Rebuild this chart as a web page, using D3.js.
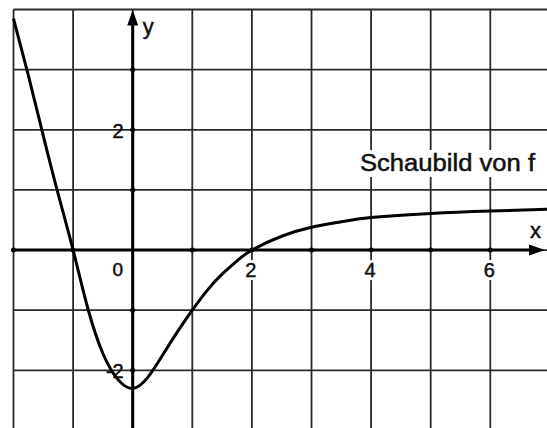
<!DOCTYPE html>
<html>
<head>
<meta charset="utf-8">
<script src="https://cdn.jsdelivr.net/npm/d3@7"></script>
<style>
  html, body { margin: 0; padding: 0; background: #fff; }
  svg { display: block; }
  text { font-family: "Liberation Sans", Arial, sans-serif; fill: #111; stroke: #111; stroke-width: 0.5px; }
</style>
</head>
<body>
<svg id="chart"></svg>
<script>
const W = 547, H = 428;

// curve
const curveX = [-2, -1.75, -1.5, -1.25, -1, -0.75, -0.5, -0.25, 0, 0.25, 0.5, 0.75, 1, 1.25, 1.5, 1.75, 2, 2.5, 3, 3.5, 4, 5, 6, 7];
const curveY = [3.85, 2.9, 1.9, 0.93, 0, -0.98, -1.72, -2.15, -2.3, -2.12, -1.75, -1.36, -1, -0.67, -0.4, -0.18, 0, 0.23, 0.38, 0.47, 0.54, 0.61, 0.65, 0.68];

const gridX = [-2, -1, 0, 1, 2, 3, 4, 5, 6];
const gridY = [-2, -1, 0, 1, 2, 3, 4];
const xTickLabels = [2, 4, 6];
const yTickLabels = [2, -2];

const svg = d3.select("#chart").attr("width", W).attr("height", H);

const x = d3.scaleLinear().domain([-2, 7]).range([13.5, 13.5 + 9 * 59.6]);
const y = d3.scaleLinear().domain([-3, 4]).range([430.5, 9.5]);

// grid
svg.append("g")
  .selectAll("line")
  .data(gridX)
  .join("line")
  .attr("x1", (d) => x(d))
  .attr("x2", (d) => x(d))
  .attr("y1", y(4))
  .attr("y2", H)
  .attr("stroke", "#2a2a2a")
  .attr("stroke-width", 1.8);

svg.append("g")
  .selectAll("line")
  .data(gridY)
  .join("line")
  .attr("x1", x(-2))
  .attr("x2", W)
  .attr("y1", (d) => y(d))
  .attr("y2", (d) => y(d))
  .attr("stroke", "#2a2a2a")
  .attr("stroke-width", 1.8);

// white patches behind labels (grid is broken there in the original)
svg.append("rect")
  .attr("x", 357).attr("y", 150).attr("width", 182).attr("height", 27)
  .attr("fill", "#fff");
svg.append("g")
  .selectAll("rect")
  .data(xTickLabels)
  .join("rect")
  .attr("x", (d) => x(d) - 8).attr("y", y(0) + 10)
  .attr("width", 14).attr("height", 20)
  .attr("fill", "#fff");

// axes
svg.append("line")
  .attr("x1", x(-2)).attr("x2", W - 14)
  .attr("y1", y(0)).attr("y2", y(0))
  .attr("stroke", "#000").attr("stroke-width", 3);
svg.append("line")
  .attr("x1", x(0)).attr("x2", x(0))
  .attr("y1", H).attr("y2", y(4) + 14)
  .attr("stroke", "#000").attr("stroke-width", 3);

// arrow heads
svg.append("path")
  .attr("d", `M${W - 2},${y(0)} L${W - 18},${y(0) - 5.5} L${W - 18},${y(0) + 5.5} Z`)
  .attr("fill", "#000");
svg.append("path")
  .attr("d", `M${x(0)},${y(4) + 0.5} L${x(0) - 5.5},${y(4) + 16} L${x(0) + 5.5},${y(4) + 16} Z`)
  .attr("fill", "#000");

// small dots where grid meets axes
svg.append("g")
  .selectAll("circle")
  .data(gridX.filter((d) => d !== 0))
  .join("circle")
  .attr("cx", (d) => x(d)).attr("cy", y(0)).attr("r", 2.5).attr("fill", "#000");
svg.append("g")
  .selectAll("circle")
  .data(gridY.filter((d) => d !== 0 && d !== 4))
  .join("circle")
  .attr("cx", x(0)).attr("cy", (d) => y(d)).attr("r", 2.5).attr("fill", "#000");

// labels
svg.append("g")
  .selectAll("text")
  .data(xTickLabels)
  .join("text")
  .attr("x", (d) => x(d) - 1)
  .attr("y", y(0) + 27)
  .attr("text-anchor", "middle")
  .attr("font-size", "20px")
  .text((d) => d);

svg.append("text")
  .attr("x", x(0) - 15)
  .attr("y", y(0) + 26)
  .attr("text-anchor", "middle")
  .attr("font-size", "19px")
  .text("0");

svg.append("g")
  .selectAll("text")
  .data(yTickLabels)
  .join("text")
  .attr("x", x(0) - 9)
  .attr("y", (d) => y(d) + 8)
  .attr("text-anchor", "end")
  .attr("font-size", "20px")
  .text((d) => (d < 0 ? "-" + Math.abs(d) : d));

svg.append("text")
  .attr("x", x(0) + 10)
  .attr("y", 34)
  .attr("font-size", "22px")
  .text("y");

svg.append("text")
  .attr("x", 530)
  .attr("y", 238)
  .attr("font-size", "22px")
  .text("x");

svg.append("text")
  .attr("x", 360)
  .attr("y", 171)
  .attr("font-size", "23px")
  .attr("textLength", 175)
  .attr("lengthAdjust", "spacingAndGlyphs")
  .text("Schaubild von f");

// curve
const pts = curveX.map((d, i) => [d, curveY[i]]);
svg.append("path")
  .datum(pts)
  .attr("fill", "none")
  .attr("stroke", "#000")
  .attr("stroke-width", 3)
  .attr("stroke-linejoin", "round")
  .attr("d", d3.line().x((d) => x(d[0])).y((d) => y(d[1])).curve(d3.curveNatural));
</script>
</body>
</html>
